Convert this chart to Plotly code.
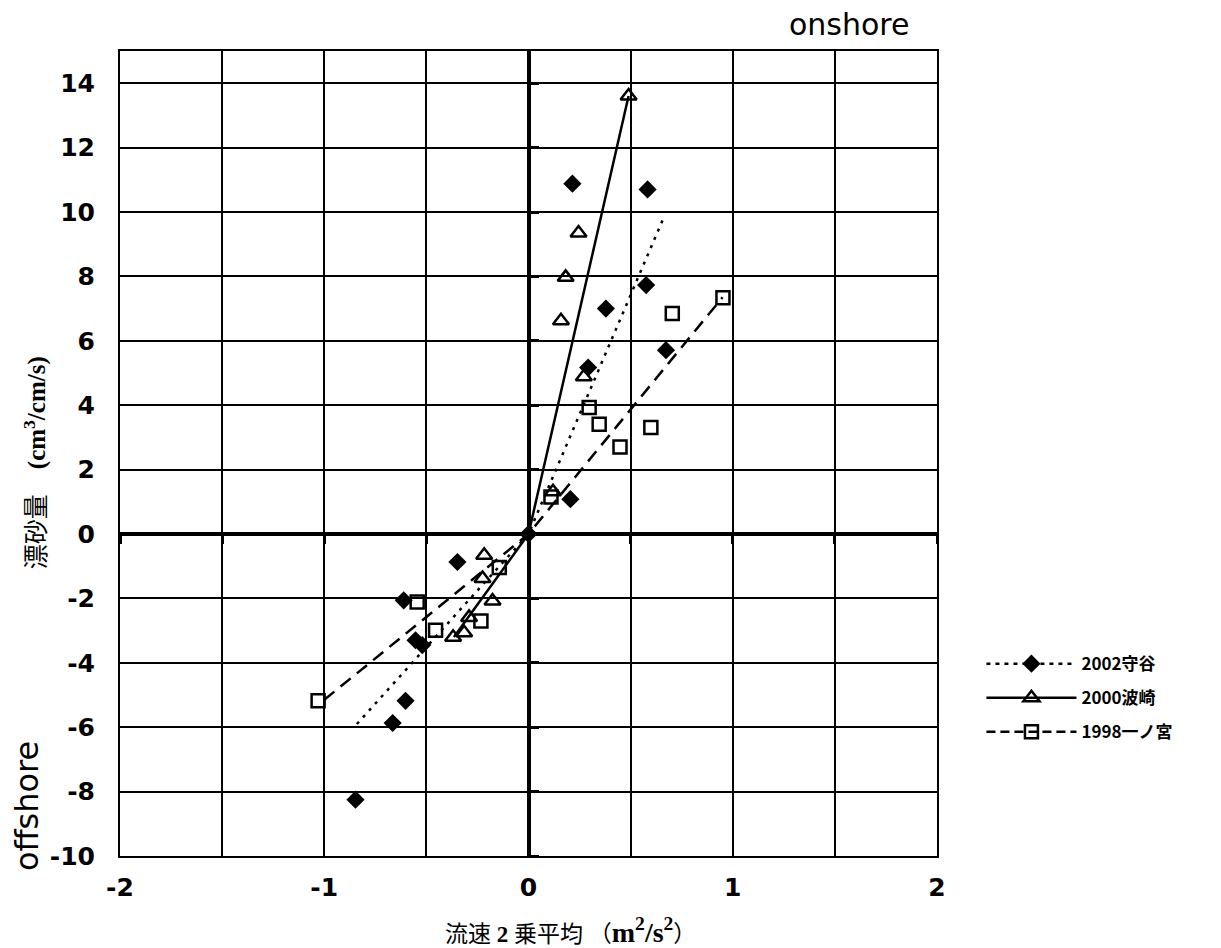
import plotly.graph_objects as go

# ---- data ----
moriya_x = [0.215, 0.583, 0.576, 0.379, 0.673, 0.292, 0.205, 0.0, -0.348, -0.611, -0.553, -0.52, -0.602, -0.665, -0.847]
moriya_y = [10.88, 10.70, 7.73, 7.00, 5.71, 5.17, 1.08, 0.0, -0.87, -2.06, -3.30, -3.45, -5.18, -5.87, -8.25]

hasaki_x = [0.49, 0.245, 0.182, 0.159, 0.271, 0.12, -0.217, -0.225, -0.176, -0.291, -0.315, -0.369]
hasaki_y = [13.6, 9.35, 7.97, 6.62, 4.88, 1.31, -0.66, -1.38, -2.08, -2.59, -3.07, -3.21]

ichinomiya_x = [0.952, 0.704, 0.297, 0.346, 0.599, 0.448, 0.11, -0.143, -0.545, -0.233, -0.455, -1.03]
ichinomiya_y = [7.34, 6.85, 3.93, 3.41, 3.31, 2.70, 1.15, -1.04, -2.11, -2.70, -2.99, -5.18]

# trend lines (through the origin, separate branches)
moriya_fit_x = [-0.84, 0.0, 0.66]
moriya_fit_y = [-5.9, 0.0, 9.8]
hasaki_fit_x = [-0.365, 0.0, 0.49]
hasaki_fit_y = [-3.2, 0.0, 13.6]
ichinomiya_fit_x = [-1.0, 0.0, 0.95]
ichinomiya_fit_y = [-5.15, 0.0, 7.35]

series_names = ["2002守谷", "2000波崎", "1998一ノ宮"]

x_labels = [-2, -1, 0, 1, 2]
x_ticktext = ["-2", "-1", "0", "1", "2"]
x_halfgrid = [-1.5, -0.5, 0.5, 1.5]
x_grid = [-2, -1.5, -1, -0.5, 0, 0.5, 1, 1.5, 2]
y_grid = [-10, -8, -6, -4, -2, 0, 2, 4, 6, 8, 10, 12, 14]
y_ticktext = ["-10", "-8", "-6", "-4", "-2", "0", "2", "4", "6", "8", "10", "12", "14"]

# ---- figure ----
fig = go.Figure()

LW = 2.5
DOT = "3px,6px"
DASH = "13px,8px"
fig.add_trace(go.Scatter(x=moriya_fit_x, y=moriya_fit_y, mode="lines",
                         line=dict(color="black", width=LW, dash=DOT), showlegend=False))
fig.add_trace(go.Scatter(x=hasaki_fit_x, y=hasaki_fit_y, mode="lines",
                         line=dict(color="black", width=LW), showlegend=False))
fig.add_trace(go.Scatter(x=ichinomiya_fit_x, y=ichinomiya_fit_y, mode="lines",
                         line=dict(color="black", width=LW, dash=DASH), showlegend=False))

fig.add_trace(go.Scatter(x=moriya_x, y=moriya_y, mode="markers",
                         marker=dict(symbol="diamond", size=14, color="black"), showlegend=False))
fig.add_trace(go.Scatter(x=hasaki_x, y=hasaki_y, mode="markers",
                         marker=dict(symbol="triangle-up-open", size=14, color="black",
                                     line=dict(width=2.5, color="black")), showlegend=False))
fig.add_trace(go.Scatter(x=ichinomiya_x, y=ichinomiya_y, mode="markers",
                         marker=dict(symbol="square-open", size=13, color="black",
                                     line=dict(width=2.5, color="black")), showlegend=False))

# legend entries (line + marker)
leg_styles = [
    (dict(color="black", width=2.5, dash="4px,5px"), dict(symbol="diamond", size=14, color="black")),
    (dict(color="black", width=2.5), dict(symbol="triangle-up-open", size=14, color="black", line=dict(width=2.5, color="black"))),
    (dict(color="black", width=2.5, dash="9px,5px"), dict(symbol="square-open", size=13, color="black", line=dict(width=2.5, color="black"))),
]
for i, (nm, (ln, mk)) in enumerate(zip(series_names, leg_styles)):
    fig.add_trace(go.Scatter(x=[None], y=[None], mode="lines+markers", name=nm,
                             line=ln, marker=mk, showlegend=True,
                             legend="legend" if i == 0 else f"legend{i+1}"))

# dummy trace for the zero-crossing tick axes
fig.add_trace(go.Scatter(x=[None], y=[None], xaxis="x2", yaxis="y2", showlegend=False, hoverinfo="skip"))

tickfont = dict(family="DejaVu Sans", size=25, color="black", weight="bold")

# page body has an 8px margin -> figure is 8px smaller and margins shifted
fig.update_layout(
    width=1213, height=940,
    margin=dict(l=112, r=284, t=43, b=92),
    paper_bgcolor="white", plot_bgcolor="white",
    xaxis=dict(range=[-2, 2], tickmode="array", tickvals=x_labels, ticktext=x_ticktext,
               showgrid=True, gridcolor="black", gridwidth=1.6,
               minor=dict(tickvals=x_halfgrid, showgrid=True, gridcolor="black", gridwidth=1.6, ticks=""),
               zeroline=True, zerolinecolor="black", zerolinewidth=3.5,
               showline=True, linecolor="black", linewidth=2, mirror=True,
               ticks="", ticklabelstandoff=8, tickfont=tickfont),
    yaxis=dict(range=[-10, 15], tickmode="array", tickvals=y_grid, ticktext=y_ticktext,
               showgrid=True, gridcolor="black", gridwidth=1.6,
               zeroline=True, zerolinecolor="black", zerolinewidth=3.5,
               showline=True, linecolor="black", linewidth=2, mirror=True,
               ticks="", ticklabelstandoff=18, tickfont=tickfont),
    xaxis2=dict(range=[-2, 2], overlaying="x", anchor="free", position=0.4, side="bottom",
                tickmode="array", tickvals=x_grid, ticks="outside", ticklen=9, tickwidth=3,
                tickcolor="black", showticklabels=False, showgrid=False, zeroline=False,
                showline=False),
    yaxis2=dict(range=[-10, 15], overlaying="y", anchor="free", position=0.5, side="right",
                tickmode="array", tickvals=y_grid, ticks="outside", ticklen=9, tickwidth=3,
                tickcolor="black", showticklabels=False, showgrid=False, zeroline=False,
                showline=False),
    showlegend=True,
)

legfont = dict(family="Noto Sans CJK JP", size=17, color="black", weight="bold")
for key, yy in zip(["legend", "legend2", "legend3"], [0.2383, 0.196, 0.1537]):
    fig.update_layout(**{key: dict(x=1.0544, y=yy, xanchor="left", yanchor="middle",
                                   bgcolor="rgba(0,0,0,0)", borderwidth=0,
                                   font=legfont, itemwidth=90)})

serif = "Liberation Serif, Noto Sans CJK JP"
fig.add_annotation(text="漂砂量　<b>(cm<sup>3</sup>/cm/s)</b>", xref="paper", yref="paper",
                   x=0, y=0.488, xshift=-85, textangle=-90, showarrow=False,
                   xanchor="center", yanchor="middle",
                   font=dict(family=serif, size=25, color="black"))
fig.add_annotation(text="流速 <b>2</b> 乗平均 （<span style='font-size:28px'><b>m<sup>2</sup>/s<sup>2</sup></b></span>）",
                   xref="paper", yref="paper",
                   x=0.5, y=0, yshift=-74, xshift=42, showarrow=False,
                   xanchor="center", yanchor="middle",
                   font=dict(family=serif, size=23, color="black"))
fig.add_annotation(text="onshore", xref="paper", yref="paper", x=0.893, y=1, yshift=27,
                   showarrow=False, xanchor="center", yanchor="middle",
                   font=dict(family="DejaVu Sans", size=30, color="black"))
fig.add_annotation(text="offshore", xref="paper", yref="paper", x=0, y=0.062, xshift=-93,
                   textangle=-90, showarrow=False, xanchor="center", yanchor="middle",
                   font=dict(family="DejaVu Sans", size=32, color="black"))

fig.write_html("out.html")
